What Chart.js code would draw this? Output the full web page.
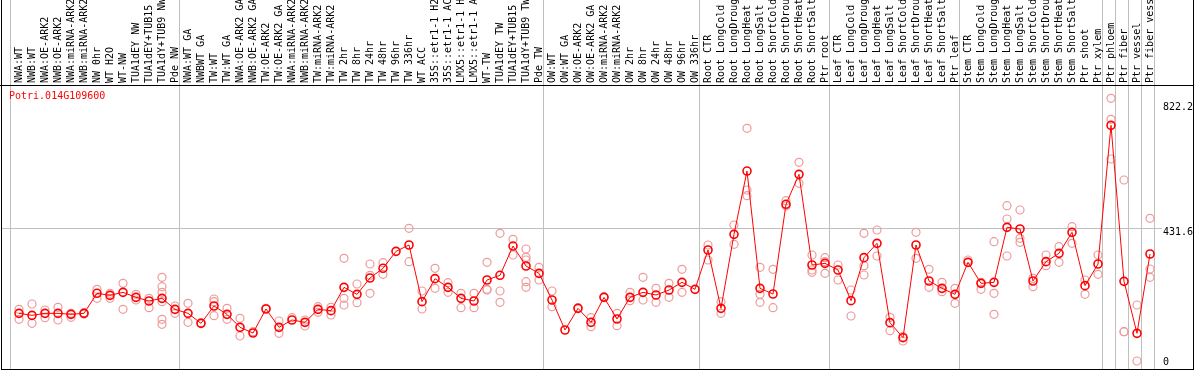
<!DOCTYPE html>
<html>
<head>
<meta charset="utf-8">
<script src="https://cdn.jsdelivr.net/npm/chart.js@4/dist/chart.umd.min.js"></script>
<style>
    body { margin: 0; background: #fff; }
    #wrap { position: relative; width: 1194px; height: 370px; overflow: hidden; }
    #frame { position: absolute; left: 1px; top: -1px; width: 1193px; height: 371px; border: 1px solid #000; box-sizing: border-box; pointer-events: none; }
    #headline { position: absolute; left: 0; top: 85px; width: 1194px; height: 1px; background: #000; }
    #gene { position: absolute; left: 9px; top: 90px; font: 10px 'DejaVu Sans Mono', monospace; line-height: 12px; color: #ff0000; }
</style>
</head>
<body>
<div id="wrap">
    <canvas id="chart" width="1194" height="370"></canvas>
    <div id="headline"></div>
    <div id="frame"></div>
    <div id="gene">Potri.014G109600</div>
</div>
<script>
// sample names along the top
var categories = [
    'NWA:WT', 'NWB:WT', 'NWA:OE-ARK2', 'NWB:OE-ARK2', 'NWA:miRNA-ARK2', 'NWB:miRNA-ARK2',
    'NW 0hr', 'WT H2O', 'WT-NW', 'TUA1dEY NW', 'TUA1dEY+TUB15', 'TUA1dY+TUB9 NW', 'Pde NW',
    'NWA:WT GA', 'NWBWT GA', 'TW:WT', 'TW:WT GA', 'NWA:OE-ARK2 GA', 'NWB:OE-ARK2 GA',
    'TW:OE-ARK2', 'TW:OE-ARK2 GA', 'NWA:miRNA-ARK2', 'NWB:miRNA-ARK2', 'TW:miRNA-ARK2',
    'TW:miRNA-ARK2', 'TW 2hr', 'TW 8hr', 'TW 24hr', 'TW 48hr', 'TW 96hr', 'TW 336hr',
    'WT ACC', '35S::etr1-1 H2', '35S::etr1-1 AC', 'LMX5::etr1-1 H', 'LMX5::etr1-1 A',
    'WT-TW', 'TUA1dEY TW', 'TUA1dEY+TUB15', 'TUA1dY+TUB9 TW', 'Pde TW',
    'OW:WT', 'OW:WT GA', 'OW:OE-ARK2', 'OW:OE-ARK2 GA', 'OW:miRNA-ARK2', 'OW:miRNA-ARK2',
    'OW 2hr', 'OW 8hr', 'OW 24hr', 'OW 48hr', 'OW 96hr', 'OW 336hr',
    'Root CTR', 'Root LongCold', 'Root LongDroug', 'Root LongHeat', 'Root LongSalt',
    'Root ShortCold', 'Root ShortDrou', 'Root ShortHeat', 'Root ShortSalt', 'Ptr root',
    'Leaf CTR', 'Leaf LongCold', 'Leaf LongDroug', 'Leaf LongHeat', 'Leaf LongSalt',
    'Leaf ShortCold', 'Leaf ShortDrou', 'Leaf ShortHeat', 'Leaf ShortSalt', 'Ptr leaf',
    'Stem CTR', 'Stem LongCold', 'Stem LongDroug', 'Stem LongHeat', 'Stem LongSalt',
    'Stem ShortCold', 'Stem ShortDrou', 'Stem ShortHeat', 'Stem ShortSalt', 'Ptr shoot',
    'Ptr xylem', 'Ptr phloem', 'Ptr fiber', 'Ptr vessel', 'Ptr fiber vessel'
];

// mean expression per sample
var means = [
    157.1, 150.6, 157.1, 157.1, 153.9, 157.1, 221.7, 215.2, 224.9, 208.7, 196.9, 205.5, 170.0,
    157.1, 124.8, 180.8, 153.9, 111.9, 93.6, 171.1, 111.9, 135.6, 128.0, 170.0, 165.7,
    241.0, 218.4, 271.2, 302.4, 357.2, 377.7, 194.8, 269.0, 241.0, 205.5, 196.9,
    264.7, 279.8, 374.4, 309.9, 286.2,
    200.1, 103.3, 173.2, 128.0, 208.7, 138.8, 208.7, 224.9, 216.3, 232.4, 257.2, 234.6,
    361.5, 173.2, 412.1, 616.5, 237.8, 219.5, 509.0, 605.8, 313.1, 318.5,
    297.0, 198.0, 336.8, 383.1, 127.0, 78.5, 377.7, 261.5, 237.8, 218.4,
    321.7, 253.9, 257.2, 434.7, 429.3, 261.5, 323.9, 350.8, 418.6, 246.4, 316.3,
    764.0, 260.4, 92.5, 348.6
];

// single replicates per sample
var replicates = [
    [170.0, 137.7], [187.2, 124.8], [167.9, 143.1], [176.5, 135.6], [157.1, 144.2], [159.2, 154.9],
    [234.6, 205.5], [205.5, 221.7], [253.9, 170.0], [218.4, 200.1], [205.5, 175.4],
    [273.3, 243.2, 224.9, 194.8, 137.7, 121.6], [180.8, 157.1],
    [189.4, 128.0], [127.0], [203.4, 194.8, 149.6], [173.2, 137.7], [141.0, 83.9], [97.9],
    [173.2], [132.3, 92.5], [143.1], [116.2, 135.6], [178.6, 160.3], [176.5, 151.7],
    [334.6, 205.5, 184.0], [251.8, 191.5], [316.3, 279.8, 221.7], [320.6, 283.0], [],
    [431.5, 323.9], [229.2, 171.1], [302.4, 237.8], [256.1, 224.9], [221.7, 175.4], [221.7, 175.4],
    [321.7, 234.6, 232.4], [415.3, 229.2, 192.6], [396.0, 345.4],
    [364.8, 337.9, 329.3, 259.3, 241.0], [305.6, 264.7],
    [229.2, 178.6], [], [175.4], [143.1, 114.1], [210.9], [157.1, 117.3], [224.9, 198.0],
    [273.3, 200.1], [237.8, 192.6], [253.9, 208.7], [299.1, 224.9], [],
    [377.7, 329.3], [194.8, 157.1], [442.2, 379.8], [754.3, 555.2, 536.9], [305.6, 218.4, 192.6],
    [299.1, 175.4], [520.8, 503.6], [644.5, 576.7], [345.4, 297.0, 289.4], [336.8, 323.9, 286.2],
    [313.1, 264.7], [232.4, 148.5], [415.3, 311.0, 280.8], [426.1, 342.2], [144.2, 101.1],
    [81.8, 67.8], [418.6, 334.6], [299.1, 241.0], [257.2, 227.0], [237.8, 189.4], [329.3],
    [257.2, 234.6], [388.4, 221.7, 153.9], [504.6, 461.6, 342.2], [490.7, 399.2, 386.3],
    [270.1, 243.2], [345.4, 311.0], [372.3, 321.7], [436.9, 383.1], [264.7, 218.4], [345.4, 283.0],
    [851.1, 783.3, 655.3], [587.5, 97.9, 97.9], [184.0, 3.2], [463.8, 300.2, 273.3]
];

// first sample index of each group (grey separators)
var groupStarts = [0, 13, 41, 53, 63, 73, 84, 85, 86, 87, 88];
var yTicks = [0, 431.6, 822.2];

var X_MIN = -17 / 13;
var X_MAX = 1137 / 13;
var Y_MIN = -22.6;
var Y_MAX = 894.2;
var FONT = { family: "'DejaVu Sans Mono', monospace", size: 10 };

var meanPoints = means.map(function (v, i) { return { x: i, y: v }; });
var repPoints = [];
replicates.forEach(function (list, i) {
    list.forEach(function (v) { repPoints.push({ x: i, y: v }); });
});

// keep chart.js from shrinking the plot for label overhang
function noPad(s) {
    s.paddingLeft = 0;
    s.paddingRight = 0;
    s.paddingTop = 0;
    s.paddingBottom = 0;
}

new Chart(document.getElementById('chart').getContext('2d'), {
    type: 'scatter',
    data: {
        datasets: [
            {
                data: meanPoints,
                showLine: true,
                borderColor: '#ff0000',
                borderWidth: 1,
                pointRadius: 4,
                pointBorderWidth: 1.6,
                pointBorderColor: '#ff0000',
                pointBackgroundColor: 'rgba(0,0,0,0)',
                tension: 0
            },
            {
                data: repPoints,
                showLine: false,
                pointRadius: 4,
                pointBorderWidth: 1.2,
                pointBorderColor: '#ee9a9a',
                pointBackgroundColor: 'rgba(0,0,0,0)'
            }
        ]
    },
    options: {
        responsive: false,
        animation: false,
        devicePixelRatio: 1,
        layout: { autoPadding: false, padding: { left: 2, right: 0, top: 0, bottom: 1 } },
        plugins: { legend: { display: false }, tooltip: { enabled: false } },
        scales: {
            x: {
                type: 'linear',
                position: 'top',
                weight: 1,
                min: X_MIN,
                max: X_MAX,
                afterBuildTicks: function (s) {
                    s.ticks = categories.map(function (c, i) { return { value: i }; });
                },
                afterFit: function (s) { s.height = 85; noPad(s); },
                ticks: {
                    autoSkip: false,
                    minRotation: 90,
                    maxRotation: 90,
                    padding: 2,
                    labelOffset: 12,
                    color: '#000',
                    font: FONT,
                    callback: function (v) { return categories[v]; }
                },
                grid: { display: false, drawTicks: false },
                border: { display: false }
            },
            xg: {
                type: 'linear',
                position: 'top',
                weight: 0,
                min: X_MIN,
                max: X_MAX,
                afterBuildTicks: function (s) {
                    s.ticks = groupStarts.map(function (b) { return { value: b - 0.62 }; });
                },
                afterFit: function (s) { s.height = 0; noPad(s); },
                ticks: { display: false },
                grid: { color: '#c0c0c0', lineWidth: 1, drawTicks: true, tickLength: 85 },
                border: { display: false }
            },
            y: {
                position: 'right',
                min: Y_MIN,
                max: Y_MAX,
                afterBuildTicks: function (s) {
                    s.ticks = yTicks.map(function (v) { return { value: v }; });
                },
                afterFit: function (s) { s.width = 38; noPad(s); },
                ticks: {
                    padding: 1,
                    color: '#000',
                    font: function (ctx) {
                        // middle label sits a little under its grid line
                        if (ctx.tick && ctx.tick.value === 431.6) {
                            return { family: FONT.family, size: 10, lineHeight: '8px' };
                        }
                        return FONT;
                    },
                    callback: function (v) {
                        if (v === 0) return '0';
                        if (v === 431.6) return ['', '431.6'];
                        return v.toFixed(1);
                    }
                },
                grid: {
                    color: function (ctx) { return ctx.tick && ctx.tick.value === 431.6 ? '#c0c0c0' : 'rgba(0,0,0,0)'; },
                    drawTicks: true,
                    tickLength: 6
                },
                border: { display: false }
            }
        }
    }
});
</script>
</body>
</html>
